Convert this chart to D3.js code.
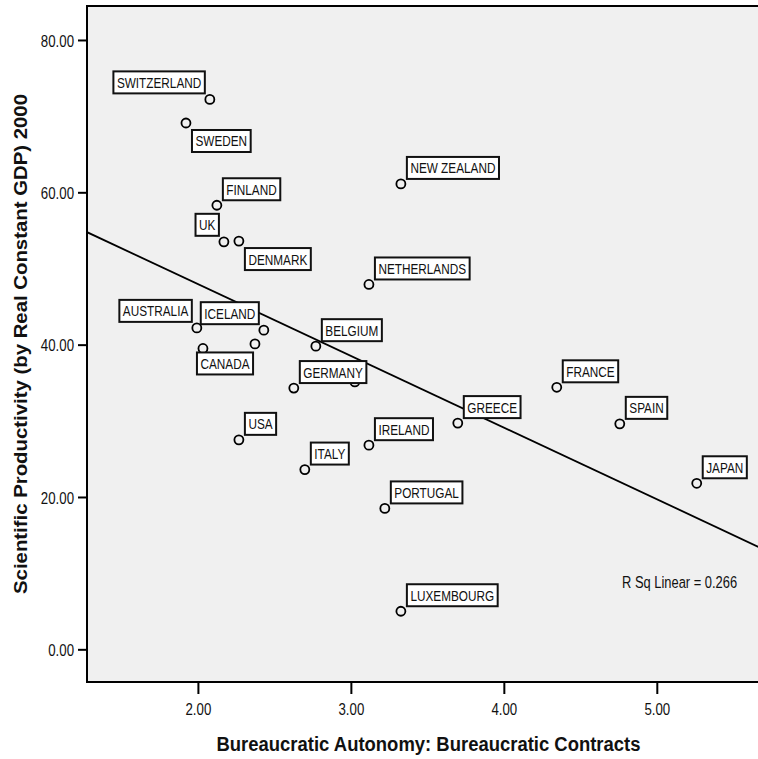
<!DOCTYPE html>
<html><head><meta charset="utf-8">
<script src="https://cdn.jsdelivr.net/npm/d3@7"></script>
<style>body{margin:0;background:#fff} svg{display:block}</style>
</head><body>
<svg id="chart" width="758" height="759"></svg>
<script>
// ---- data ----
const countries = ["SWITZERLAND","SWEDEN","FINLAND","UK","DENMARK","NEW ZEALAND","NETHERLANDS",
  "AUSTRALIA","ICELAND",null,"CANADA","BELGIUM","GERMANY",null,"USA","ITALY","IRELAND",
  "PORTUGAL","LUXEMBOURG","GREECE","FRANCE","SPAIN","JAPAN"];
const autonomy = [2.078,1.922,2.124,2.170,2.268,3.327,3.118,
  1.993,2.431,2.373,2.033,2.771,2.627,3.026,2.268,2.699,3.118,
  3.222,3.327,3.699,4.346,4.758,5.261];
const productivity = [72.2,69.1,58.3,53.5,53.6,61.1,47.9,
  42.2,41.9,40.1,39.5,39.8,34.3,35.1,27.5,23.6,26.8,
  18.5,5.0,29.7,34.4,29.6,21.8];
const xTicks = [2,3,4,5];
const yTicks = [0,20,40,60,80];
const xDomain = [1.275, 5.74];
const yDomain = [-4.29, 84.46];
const rSqLabel = "R Sq Linear = 0.266";
const xTitle = "Bureaucratic Autonomy: Bureaucratic Contracts";
const yTitle = "Scientific Productivity (by Real Constant GDP) 2000";

// ---- layout ----
const W = 758, H = 759;
const plot = {left: 87, top: 6, right: 770, bottom: 682};
const SX = 0.76; // horizontal condensing of text
const svg = d3.select("#chart");
const x = d3.scaleLinear().domain(xDomain).range([plot.left, plot.right]);
const y = d3.scaleLinear().domain(yDomain).range([plot.bottom, plot.top]);
const font = "'Liberation Sans', Arial, sans-serif";

svg.append("defs").append("clipPath").attr("id","clip")
  .append("rect").attr("x",plot.left).attr("y",plot.top)
  .attr("width",plot.right-plot.left).attr("height",plot.bottom-plot.top);

svg.append("rect").attr("x",plot.left).attr("y",plot.top)
  .attr("width",plot.right-plot.left).attr("height",plot.bottom-plot.top)
  .attr("fill","#f0f0f0");

const pts = countries.map((c,i)=>({name:c, x:autonomy[i], y:productivity[i]}));

// circles
const g = svg.append("g").attr("clip-path","url(#clip)");
g.selectAll("circle").data(pts).join("circle")
  .attr("cx",d=>x(d.x)).attr("cy",d=>y(d.y)).attr("r",4.5)
  .attr("fill","none").attr("stroke","#000").attr("stroke-width",1.8);

// labels
const place = {SWITZERLAND:"nw", SWEDEN:"se", UK:"nw", DENMARK:"se", AUSTRALIA:"nw", ICELAND:"nw", CANADA:"s"};
const lg = svg.append("g");
pts.filter(d=>d.name).forEach(d=>{
  const cx = x(d.x), cy = y(d.y);
  const grp = lg.append("g");
  const box = grp.append("rect");
  const tg = grp.append("g");
  const t = tg.append("text").text(d.name)
    .attr("font-family",font).attr("font-size",15.5).attr("fill","#111");
  const tw = t.node().getComputedTextLength()*SX;
  const bw = tw + 7, bh = 22;
  let bx, by;
  const p = place[d.name] || "ne";
  if (p==="ne"){ bx = cx+6; by = cy-5-bh; }
  else if (p==="nw"){ bx = cx-5-bw; by = cy-6-bh; }
  else if (p==="se"){ bx = cx+6; by = cy+7; }
  else { bx = cx-6; by = cy+4; }
  box.attr("x",bx).attr("y",by).attr("width",bw).attr("height",bh)
    .attr("fill","#fff").attr("stroke","#111").attr("stroke-width",2);
  tg.attr("transform",`translate(${bx+3.5},${by+16.5}) scale(${SX},1)`);
});

// regression line (OLS fit of the points)
const mx = d3.mean(autonomy), my = d3.mean(productivity);
let sxy=0, sxx=0;
autonomy.forEach((v,i)=>{ sxy += (v-mx)*(productivity[i]-my); sxx += (v-mx)*(v-mx); });
const slope = sxy/sxx, icpt = my - slope*mx;
g.append("line")
  .attr("x1",x(xDomain[0])).attr("y1",y(icpt+slope*xDomain[0]))
  .attr("x2",x(xDomain[1])).attr("y2",y(icpt+slope*xDomain[1]))
  .attr("stroke","#000").attr("stroke-width",1.8);

// R sq text
svg.append("g").attr("transform",`translate(622,588) scale(${SX},1)`)
  .append("text").text(rSqLabel).attr("font-family",font).attr("font-size",17).attr("fill","#111");

// frame
const frame = svg.append("g").attr("stroke","#000").attr("stroke-width",2);
frame.append("line").attr("x1",plot.left).attr("x2",W+5).attr("y1",plot.top).attr("y2",plot.top);
frame.append("line").attr("x1",plot.left).attr("x2",plot.left).attr("y1",plot.top-1).attr("y2",plot.bottom+1);
frame.append("line").attr("x1",plot.left).attr("x2",W+5).attr("y1",plot.bottom).attr("y2",plot.bottom);

// axes
const TSX = 0.78, TFS = 17;
const yAxis = svg.append("g").attr("transform",`translate(${plot.left},0)`)
  .call(d3.axisLeft(y).tickValues(yTicks).tickFormat(d3.format(".2f")).tickSize(9).tickSizeOuter(0));
yAxis.select(".domain").remove();
yAxis.selectAll("line").attr("stroke","#000").attr("stroke-width",2);
yAxis.selectAll("text").attr("font-family",font).attr("font-size",TFS).attr("fill","#111")
  .attr("x",-13/TSX).attr("dy","0.36em").attr("transform",`scale(${TSX},1)`);

const xAxis = svg.append("g").attr("transform",`translate(0,${plot.bottom})`)
  .call(d3.axisBottom(x).tickValues(xTicks).tickFormat(d3.format(".2f")).tickSize(12).tickSizeOuter(0));
xAxis.select(".domain").remove();
xAxis.selectAll("line").attr("stroke","#000").attr("stroke-width",2);
xAxis.selectAll("text").attr("font-family",font).attr("font-size",TFS).attr("fill","#111")
  .attr("y",33.5).attr("dy",0).attr("transform",`scale(${TSX},1)`);

// titles
svg.append("text").text(xTitle)
  .attr("x",(plot.left+plot.right)/2).attr("y",751).attr("text-anchor","middle")
  .attr("font-family",font).attr("font-weight","bold").attr("font-size",20).attr("fill","#111")
  .attr("textLength",424).attr("lengthAdjust","spacingAndGlyphs");
svg.append("text").text(yTitle)
  .attr("transform",`translate(27,${(plot.top+plot.bottom)/2}) rotate(-90)`)
  .attr("text-anchor","middle")
  .attr("font-family",font).attr("font-weight","bold").attr("font-size",18).attr("fill","#111")
  .attr("textLength",500).attr("lengthAdjust","spacingAndGlyphs");
</script>
</body></html>
